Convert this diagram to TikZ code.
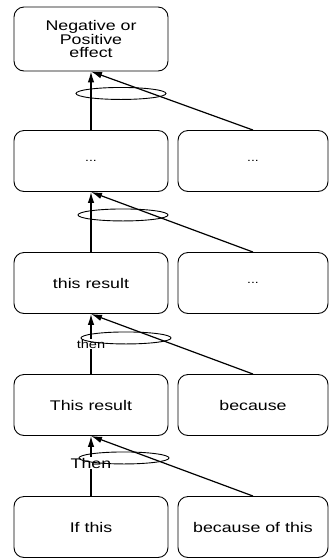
\documentclass[tikz,border=0pt]{standalone}
\usepackage{fontspec}
\setmainfont[FakeStretch=1.27]{Liberation Sans}
\usetikzlibrary{arrows.meta,shapes.geometric,calc}

\begin{document}
\begin{tikzpicture}[x=1pt, y=1pt, node distance=122pt,
  every node/.style={align=center},
  box/.style={draw, line width=0.9pt, rounded corners=10pt, minimum width=154pt, minimum height=61pt, font=\fontsize{14}{15}\selectfont},
  sidebox/.style={box, minimum width=150pt},
  dots/.style={font=\fontsize{11}{12}\selectfont},
  link/.style={-{Latex[length=11pt,width=6.5pt]}, line width=1.2pt},
  andarc/.style={draw, ellipse, line width=0.9pt, minimum width=90pt, minimum height=12pt, inner sep=0pt},
  tag/.style={fill=white, inner sep=0.5pt}]
\useasboundingbox (0,0) rectangle (329,-558);

% left column, from the effect down to the condition
\node (effect) [box, minimum height=64pt, font=\fontsize{14}{13.5}\selectfont] at (91,-39) {Negative or\\Positive\\effect};
\node (step) [box, dots, below of=effect] {...};
\node (result) [box, below of=step] {this result};
\node (outcome) [box, below of=result] {This result};
\node (condition) [box, below of=outcome] {If this};

% right column
\node (sidestep) [sidebox, dots, right of=step, node distance=162pt] {...};
\node (sideresult) [sidebox, dots, right of=result, node distance=162pt] {...};
\node (because) [sidebox, right of=outcome, node distance=162pt] {because};
\node (reason) [sidebox, right of=condition, node distance=162pt] {because of this};

\draw[link] (step) -- (effect.south);
\draw[link] (sidestep.north) -- (effect.south);
\draw[link] (result) -- (step.south);
\draw[link] (sideresult.north) -- (step.south);
\draw[link] (outcome) -- node[tag, font=\fontsize{11.5}{12}\selectfont]{then} (result.south);
\draw[link] (because.north) -- (result.south);
\draw[link] (condition) -- node[tag, pos=0.55, font=\fontsize{14}{15}\selectfont]{Then} (outcome.south);
\draw[link] (reason.north) -- (outcome.south);

% and-arcs
\node (and1) [andarc] at ($(effect.south)+(30,-22)$) {};
\node (and2) [andarc] at ($(step.south)+(32,-23)$) {};
\node (and3) [andarc] at ($(result.south)+(35,-24)$) {};
\node (and4) [andarc] at ($(outcome.south)+(33,-22)$) {};
\end{tikzpicture}
\end{document}
